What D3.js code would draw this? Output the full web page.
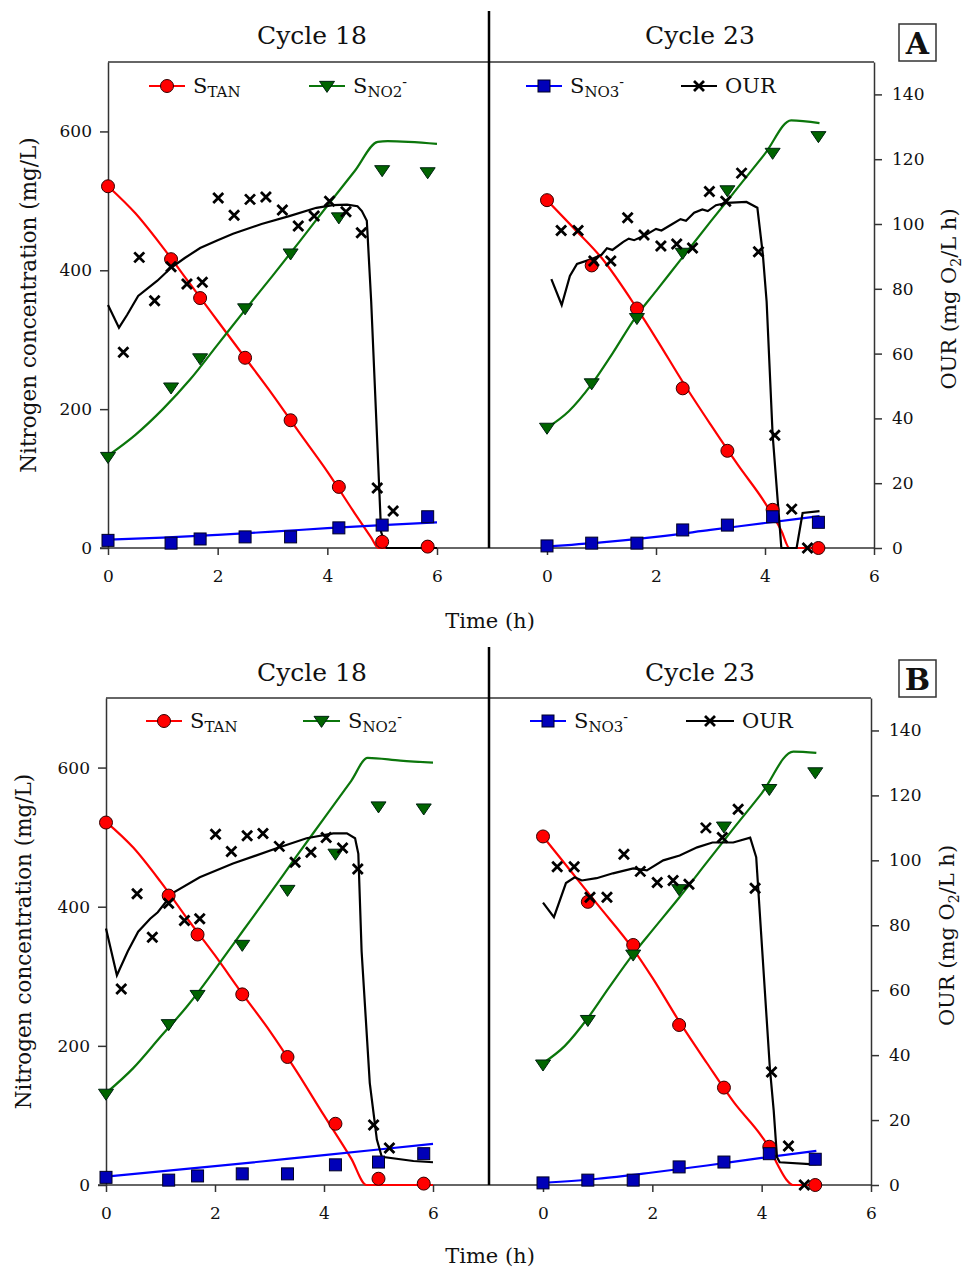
<!DOCTYPE html>
<html>
<head>
<meta charset="utf-8">
<style>
body { margin: 0; background: #fff; }
text { font-family: "DejaVu Serif", serif; fill: #111; }
</style>
</head>
<body>
<script src="https://cdnjs.cloudflare.com/ajax/libs/d3/7.8.5/d3.min.js"></script>
<script>

var width = 967,
	height = 1269;

// measured samples, cycle 18 (same in A and B)
var t18 = [0, 1.15, 1.68, 2.5, 3.33, 4.21, 5.0, 5.83];
var tan18 = [521, 416, 360, 274, 184, 88, 9, 2];
var no2_18 = [131, 231, 273, 345, 424, 476, 544, 541];
var no3_18 = [11, 7, 13, 16, 16, 29, 33, 45];
var ourT18 = [0.28, 0.57, 0.85, 1.15, 1.44, 1.72, 2.01, 2.3, 2.59, 2.88, 3.18, 3.47, 3.76, 4.04, 4.34, 4.62, 4.91, 5.2];
var our18 = [60.4, 89.7, 76.3, 86.8, 81.5, 82, 108, 102.7, 107.6, 108.3, 104.3, 99.4, 102.5, 107, 103.8, 97.3, 18.5, 11.4];

// measured samples, cycle 23
var t23 = [0, 0.82, 1.65, 2.49, 3.31, 4.14, 4.98];
var tan23 = [501, 407, 345, 230, 140, 55, 0];
var no2_23 = [173, 237, 331, 425, 515, 569, 593];
var no3_23 = [3, 7, 7, 26, 33, 45, 37];
var ourT23 = [0.26, 0.57, 0.86, 1.17, 1.48, 1.78, 2.09, 2.38, 2.67, 2.98, 3.28, 3.57, 3.88, 4.18, 4.49, 4.78];
var our23 = [98, 98, 88.6, 88.6, 101.9, 96.6, 93.2, 93.8, 92.6, 110, 107, 115.7, 91.4, 34.8, 12, 0];

// model curves, panel A  [time, value]
var modelA18Tan = [[0,521],[0.5,482],[1,433],[1.5,380],[2,327],[2.5,274],[3,221],[3.5,165],[4,110],[4.5,50],[4.8,15],[4.93,0],[6,0]];
var modelA18No2 = [[0,133],[0.5,163],[1,200],[1.5,243],[2,293],[2.5,343],[3,392],[3.5,442],[4,493],[4.5,543],[4.92,585],[5.1,586],[6,582]];
var modelA18No3 = [[0,12],[1,15],[2,19],[3,23.5],[4,28.5],[5,33],[6,37]];
var modelA18Our = [[0,75],[0.2,68],[0.35,72],[0.55,77.8],[0.9,82.5],[1.15,86.5],[1.4,89.5],[1.68,92.6],[2,95],[2.28,97],[2.8,100],[3.32,102.5],[3.8,105],[4.1,105.8],[4.36,106],[4.55,105.5],[4.63,104],[4.72,101],[4.8,76],[4.93,25],[4.98,5],[5.08,0],[6,0]];
var modelA23Tan = [[0,501],[0.5,460],[1,418],[1.65,345],[2,302],[2.5,238],[3,178],[3.5,120],[4,65],[4.3,25],[4.45,0],[5,0]];
var modelA23No2 = [[0,173],[0.4,197],[0.82,236],[1.2,280],[1.63,333],[2,370],[2.5,420],[3,470],[3.5,519],[4,568],[4.48,616],[5,612]];
var modelA23No3 = [[0,2],[1,8],[2,16],[3,26],[4,36],[5,46]];
var modelA23Our = [[0.08,83],[0.27,75],[0.42,84],[0.55,87.7],[0.79,89],[1,90.5],[1.1,92.5],[1.2,92],[1.4,94.5],[1.5,95.5],[1.6,95],[1.8,96.5],[2,98.5],[2.1,98],[2.3,100],[2.45,101.5],[2.55,101],[2.7,103.5],[2.85,104.5],[2.95,104],[3.1,105.8],[3.3,106.5],[3.66,106.8],[3.86,105],[3.96,90.7],[4.03,76],[4.14,35],[4.3,0],[4.58,0],[4.69,10.8],[5,11.4]];

// model curves, panel B
var modelB18Tan = [[0,522],[0.5,485],[1,436],[1.5,382],[2,330],[2.5,275],[3,222],[3.5,163],[4,100],[4.5,38],[4.78,0],[6,0]];
var modelB18No2 = [[0,132],[0.5,168],[1,213],[1.5,258],[1.7,278],[2.13,324],[2.5,364],[3,418],[3.5,473],[4,527],[4.5,581],[4.8,614],[5.4,610],[6,607]];
var modelB18No3 = [[0,12],[2,27],[4,43],[6,59]];
var modelB18Our = [[0,79],[0.2,64.6],[0.4,72],[0.59,78],[0.81,82],[0.95,84],[1.23,90],[1.72,94.8],[2.33,99],[3.13,103.7],[3.68,106.8],[4.17,108.3],[4.42,108.3],[4.57,106.8],[4.63,102],[4.69,72],[4.84,31.4],[4.97,14],[5.06,8.7],[5.64,7.4],[6,7]];
var modelB23Tan = [[0,501],[0.5,452],[1,403],[1.66,338],[2,298],[2.5,234],[3,175],[3.5,118],[4,70],[4.15,52],[4.3,28],[4.45,8],[4.57,0],[5,0]];
var modelB23No2 = [[0,175],[0.4,200],[0.82,240],[1.2,283],[1.66,333],[2,366],[2.5,414],[3,464],[3.5,514],[4,563],[4.58,623],[5,621]];
var modelB23No3 = [[0,3],[1,9],[2,18],[3,28],[4,39],[5,49]];
var modelB23Our = [[0,87],[0.2,82.5],[0.42,93],[0.58,94.8],[0.71,93.8],[0.98,94.5],[1.28,96],[1.65,97.5],[1.9,96.9],[2.2,100],[2.5,101.5],[2.82,104],[3.1,105.5],[3.48,105.5],[3.79,107],[3.9,101],[4.01,72.3],[4.15,36],[4.22,23],[4.28,8.6],[4.33,7],[4.88,6.4],[5,6.4]];

var nTicks = [0, 200, 400, 600];
var ourTicks = [0, 20, 40, 60, 80, 100, 120, 140];
var timeTicks = [0, 2, 4, 6];
var cycleTitles = ["Cycle 18", "Cycle 23"];

var red = "#ff0000", green = "#0b760b", greenFill = "#006400", blue = "#0000ff", blueFill = "#0000b8";

var svg = d3.select("body").append("svg")
	.attr("width", width)
	.attr("height", height)
	.style("display", "block");

var panels = [
	{ label: "A", left: 108, sixL: 437, zeroR: 547, right: 874, top: 62, bottom: 548, divTop: 11,
	  titleY: 44, timeY: 628, nLabelX: 28, ourLabelX: 950, labelBoxY: 24, legendY: 86,
	  legendX: [149, 309, 526, 681], legendLen: [36, 36, 36, 36],
	  m18: [modelA18Tan, modelA18No2, modelA18No3, modelA18Our],
	  m23: [modelA23Tan, modelA23No2, modelA23No3, modelA23Our] },
	{ label: "B", left: 106, sixL: 433, zeroR: 543, right: 871, top: 698, bottom: 1185, divTop: 647,
	  titleY: 681, timeY: 1263, nLabelX: 23, ourLabelX: 948, labelBoxY: 660, legendY: 721,
	  legendX: [146, 303, 530, 686], legendLen: [36, 37, 36, 48],
	  m18: [modelB18Tan, modelB18No2, modelB18No3, modelB18Our],
	  m23: [modelB23Tan, modelB23No2, modelB23No3, modelB23Our] }
];

function triPath(s) { return "M" + (-s) + "," + (-s * 0.62) + "L" + s + "," + (-s * 0.62) + "L0," + (s * 0.85) + "Z"; }
var crossPath = "M-5,-5L5,5M-5,5L5,-5";

function styleAxis(g) {
	g.attr("font-family", "DejaVu Serif").attr("font-size", 17).style("color", "#333");
	g.selectAll("path, line").attr("stroke-width", 1.5);
	g.selectAll("text").attr("fill", "#111");
}

function drawCycle(g, x, yN, yO, times, tan, no2, no3, ourT, our, models) {
	var lineN = d3.line().x(function(d) { return x(d[0]); }).y(function(d) { return yN(d[1]); }).curve(d3.curveMonotoneX);
	var lineO = d3.line().x(function(d) { return x(d[0]); }).y(function(d) { return yO(d[1]); });

	var cols = [red, green, blue];
	models.slice(0, 3).forEach(function(m, i) {
		g.append("path").datum(m).attr("d", lineN)
			.attr("fill", "none").attr("stroke", cols[i]).attr("stroke-width", 2.2);
	});
	g.append("path").datum(models[3]).attr("d", lineO)
		.attr("fill", "none").attr("stroke", "#000").attr("stroke-width", 2.2);

	g.selectAll(null).data(times.map(function(t, i) { return [t, tan[i]]; }))
		.enter().append("circle")
		.attr("cx", function(d) { return x(d[0]); })
		.attr("cy", function(d) { return yN(d[1]); })
		.attr("r", 6.5)
		.attr("fill", red).attr("stroke", "#300").attr("stroke-width", 1);

	g.selectAll(null).data(times.map(function(t, i) { return [t, no2[i]]; }))
		.enter().append("path")
		.attr("d", triPath(7.5))
		.attr("transform", function(d) { return "translate(" + x(d[0]) + "," + yN(d[1]) + ")"; })
		.attr("fill", greenFill).attr("stroke", "#021").attr("stroke-width", 1);

	g.selectAll(null).data(times.map(function(t, i) { return [t, no3[i]]; }))
		.enter().append("rect")
		.attr("x", function(d) { return x(d[0]) - 6; })
		.attr("y", function(d) { return yN(d[1]) - 6; })
		.attr("width", 12).attr("height", 12)
		.attr("fill", blueFill).attr("stroke", "#002").attr("stroke-width", 1);

	g.selectAll(null).data(ourT.map(function(t, i) { return [t, our[i]]; }))
		.enter().append("path")
		.attr("d", crossPath)
		.attr("transform", function(d) { return "translate(" + x(d[0]) + "," + yO(d[1]) + ")"; })
		.attr("fill", "none").attr("stroke", "#000").attr("stroke-width", 2.8);
}

function legendItem(g, x0, len, y, kind, label) {
	var colour = { tan: red, no2: green, no3: blue, our: "#000" }[kind];
	var mx = x0 + len / 2;
	g.append("line").attr("x1", x0).attr("x2", x0 + len).attr("y1", y).attr("y2", y)
		.attr("stroke", colour).attr("stroke-width", 2.2);
	if (kind == "tan")
		g.append("circle").attr("cx", mx).attr("cy", y).attr("r", 6.5)
			.attr("fill", red).attr("stroke", "#300");
	else if (kind == "no2")
		g.append("path").attr("d", triPath(7.5)).attr("transform", "translate(" + mx + "," + y + ")")
			.attr("fill", greenFill).attr("stroke", "#021");
	else if (kind == "no3")
		g.append("rect").attr("x", mx - 6).attr("y", y - 6).attr("width", 12).attr("height", 12)
			.attr("fill", blueFill).attr("stroke", "#002");
	else
		g.append("path").attr("d", crossPath).attr("transform", "translate(" + mx + "," + y + ")")
			.attr("stroke", "#000").attr("stroke-width", 2.8);

	var t = g.append("text").attr("x", x0 + len + 8).attr("y", y + 7).attr("font-size", 21);
	if (kind == "our") { t.text(label); return; }
	t.append("tspan").text("S");
	t.append("tspan").attr("dy", 4).attr("font-size", 15).text(label);
	if (kind != "tan")
		t.append("tspan").attr("dy", -10).attr("font-size", 14).text("-");
}

panels.forEach(function(p) {
	var g = svg.append("g");

	var xL = d3.scaleLinear().domain([0, 6]).range([p.left, p.sixL]);
	var xR = d3.scaleLinear().domain([0, 6]).range([p.zeroR, p.right]);
	var yN = d3.scaleLinear().domain([0, 700]).range([p.bottom, p.top]);
	var yO = d3.scaleLinear().domain([0, 150]).range([p.bottom, p.top]);
	var divX = 489;

	// frame top and time baseline
	g.append("line").attr("x1", p.left).attr("x2", p.right).attr("y1", p.top).attr("y2", p.top)
		.attr("stroke", "#333").attr("stroke-width", 1.5);
	g.append("line").attr("x1", p.left - 8).attr("x2", p.right).attr("y1", p.bottom).attr("y2", p.bottom)
		.attr("stroke", "#333").attr("stroke-width", 1.5);

	g.append("g").attr("transform", "translate(" + p.left + ",0)")
		.call(d3.axisLeft(yN).tickValues(nTicks).tickSize(8).tickPadding(8).tickSizeOuter(0))
		.call(styleAxis);

	g.append("g").attr("transform", "translate(" + p.right + ",0)")
		.call(d3.axisRight(yO).tickValues(ourTicks).tickSize(8).tickPadding(10).tickSizeOuter(0))
		.call(styleAxis);

	[xL, xR].forEach(function(x) {
		g.append("g").attr("transform", "translate(0," + p.bottom + ")")
			.call(d3.axisBottom(x).tickValues(timeTicks).tickFormat(d3.format("d"))
				.tickSize(7).tickPadding(15).tickSizeOuter(0))
			.call(styleAxis)
			.call(function(a) { a.select(".domain").remove(); });
	});

	// divider between cycles
	g.append("line").attr("x1", divX).attr("x2", divX).attr("y1", p.divTop).attr("y2", p.bottom)
		.attr("stroke", "#000").attr("stroke-width", 2.5);

	// titles
	g.append("text").attr("x", 312).attr("y", p.titleY).attr("text-anchor", "middle")
		.attr("font-size", 25).text(cycleTitles[0]);
	g.append("text").attr("x", 700).attr("y", p.titleY).attr("text-anchor", "middle")
		.attr("font-size", 25).text(cycleTitles[1]);

	// panel letter
	g.append("rect").attr("x", 899).attr("y", p.labelBoxY).attr("width", 37).attr("height", 37)
		.attr("fill", "none").attr("stroke", "#333").attr("stroke-width", 1.5);
	g.append("text").attr("x", 917.5).attr("y", p.labelBoxY + 30).attr("text-anchor", "middle")
		.attr("font-size", 30).attr("font-weight", "bold").text(p.label);

	// axis titles
	var mid = (p.top + p.bottom) / 2;
	g.append("text").attr("transform", "translate(" + p.nLabelX + "," + mid + ") rotate(-90)")
		.attr("dy", "0.35em").attr("text-anchor", "middle").attr("font-size", 21.5)
		.text("Nitrogen concentration (mg/L)");
	var ol = g.append("text").attr("transform", "translate(" + p.ourLabelX + "," + (mid - 6) + ") rotate(-90)")
		.attr("dy", "0.3em").attr("text-anchor", "middle").attr("font-size", 21);
	ol.append("tspan").text("OUR (mg O");
	ol.append("tspan").attr("dy", 5).attr("font-size", 14).text("2");
	ol.append("tspan").attr("dy", -5).text("/L h)");

	g.append("text").attr("x", 490).attr("y", p.timeY).attr("text-anchor", "middle")
		.attr("font-size", 21).text("Time (h)");

	drawCycle(g, xL, yN, yO, t18, tan18, no2_18, no3_18, ourT18, our18, p.m18);
	drawCycle(g, xR, yN, yO, t23, tan23, no2_23, no3_23, ourT23, our23, p.m23);

	legendItem(g, p.legendX[0], p.legendLen[0], p.legendY, "tan", "TAN");
	legendItem(g, p.legendX[1], p.legendLen[1], p.legendY, "no2", "NO2");
	legendItem(g, p.legendX[2], p.legendLen[2], p.legendY, "no3", "NO3");
	legendItem(g, p.legendX[3], p.legendLen[3], p.legendY, "our", "OUR");
});

</script>
</body>
</html>
